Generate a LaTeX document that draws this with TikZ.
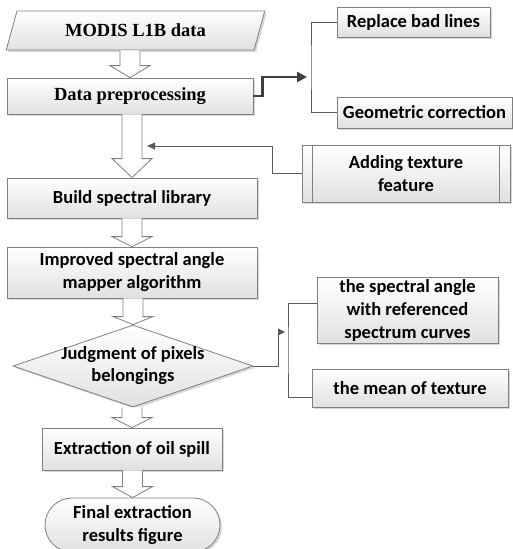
\documentclass[tikz,border=0pt]{standalone}
\usepackage{fontspec}
\setmainfont{Carlito}
\newfontfamily\timesfont{Liberation Serif}
\usetikzlibrary{shapes.geometric,shapes.misc,shadows,calc,arrows.meta}
\definecolor{edgec}{HTML}{7F7F7F}
\definecolor{connc}{HTML}{5A5A5A}
\definecolor{thickc}{HTML}{404040}
\newcommand\blockarrow[3][12]{%
  \draw[blockarr] ($(#2.south -| #3.north)+(-10,0)$) -- ($(#3.north)+(-10,-#1)$) -- ($(#3.north)+(-20,-#1)$) -- (#3.north) -- ($(#3.north)+(20,-#1)$) -- ($(#3.north)+(10,-#1)$) -- ($(#2.south -| #3.north)+(10,0)$);}
\begin{document}
\begin{tikzpicture}[x=1pt,y=-1pt,
  shd/.style={drop shadow={shadow xshift=2pt,shadow yshift=-2pt,fill=black!30,opacity=0.5}},
  box/.style={draw=edgec, line width=0.8pt, top color=white, bottom color=black!12, shd, inner sep=2pt, align=center, font=\bfseries\fontsize{18.5}{23}\selectfont},
  serifbox/.style={box, font=\timesfont\bfseries\fontsize{18.5}{23}\selectfont},
  lbl/.style={align=center, font=\bfseries\fontsize{18.5}{22}\selectfont},
  blockarr/.style={draw=edgec, line width=0.8pt, fill=white},
  conn/.style={draw=connc, line width=1pt},
  thickconn/.style={draw=thickc, line width=2.6pt, -{Triangle[length=10pt,width=10pt]}, color=thickc}
]
\clip (0,0) rectangle (513,549);
% main column
\node[serifbox, trapezium, trapezium left angle=64, trapezium right angle=116, trapezium stretches=true, minimum width=259pt, minimum height=39pt, inner sep=0pt] (modis) at (135.5,30.5) {MODIS L1B data};
\node[serifbox, minimum width=246pt, minimum height=36pt] (pre) at (130,96) {Data preprocessing};
\node[box, minimum width=250pt, minimum height=40pt] (lib) at (132,198) {Build spectral library};
\node[box, minimum width=250pt, minimum height=51pt] (sam) at (132,272.5) {Improved spectral angle\\mapper algorithm};
\node[draw=edgec, line width=0.8pt, top color=white, bottom color=black!12, shd, diamond, minimum width=240pt, minimum height=82pt, inner sep=0pt] (judge) at (133,366) {};
\node[lbl] (judgetxt) at (judge.center) {Judgment of pixels\\belongings};
\node[box, minimum width=180pt, minimum height=42pt] (ext) at (132,449) {Extraction of oil spill};
\node[box, rounded corners=27pt, minimum width=175pt, minimum height=54pt] (fin) at (132.5,525) {Final extraction\\results figure};
% right column
\node[box, minimum width=153pt, minimum height=30pt] (rbl) at (413.5,22) {Replace bad lines};
\node[box, minimum width=175pt, minimum height=31pt] (geo) at (424.5,112.5) {Geometric correction};
\node[box, minimum width=208pt, minimum height=57pt] (tex) at (406,173.5) {Adding texture\\feature};
\draw[edgec, line width=0.8pt] ([xshift=11pt]tex.north west) -- ([xshift=11pt]tex.south west);
\draw[edgec, line width=0.8pt] ([xshift=-11pt]tex.north east) -- ([xshift=-11pt]tex.south east);
\node[box, minimum width=181pt, minimum height=65pt] (spa) at (407.5,310.5) {the spectral angle\\with referenced\\spectrum curves};
\node[box, minimum width=196pt, minimum height=38pt] (mean) at (410,388) {the mean of texture};
% block arrows
\blockarrow[12]{modis}{pre}
\blockarrow[19]{pre}{lib}
\blockarrow[10]{lib}{sam}
\blockarrow[8]{sam}{judge}
\blockarrow[10]{judge}{ext}
\blockarrow[11]{ext}{fin}
% connectors
\coordinate (c1) at (307,77);
\draw[thickconn] (pre.east) -- ++(9,0) |- (c1);
\coordinate (br1) at (311,67);
\draw[conn] (rbl.west) -| (br1) |- (geo.west);
\coordinate (fb) at (147,146);
\draw[conn, -{Triangle[length=8pt,width=7pt]}] (tex.west) -- ++(-29,0) |- (fb);
\coordinate (c2) at (285,332);
\draw[conn, -{Triangle[length=7pt,width=7pt]}] (judge.east) -- ++(25,0) |- (c2);
\coordinate (br2) at (288,350);
\draw[conn] ([yshift=7.5pt]spa.west) -| (br2) |- ([yshift=-9pt]mean.west);
\end{tikzpicture}
\end{document}
